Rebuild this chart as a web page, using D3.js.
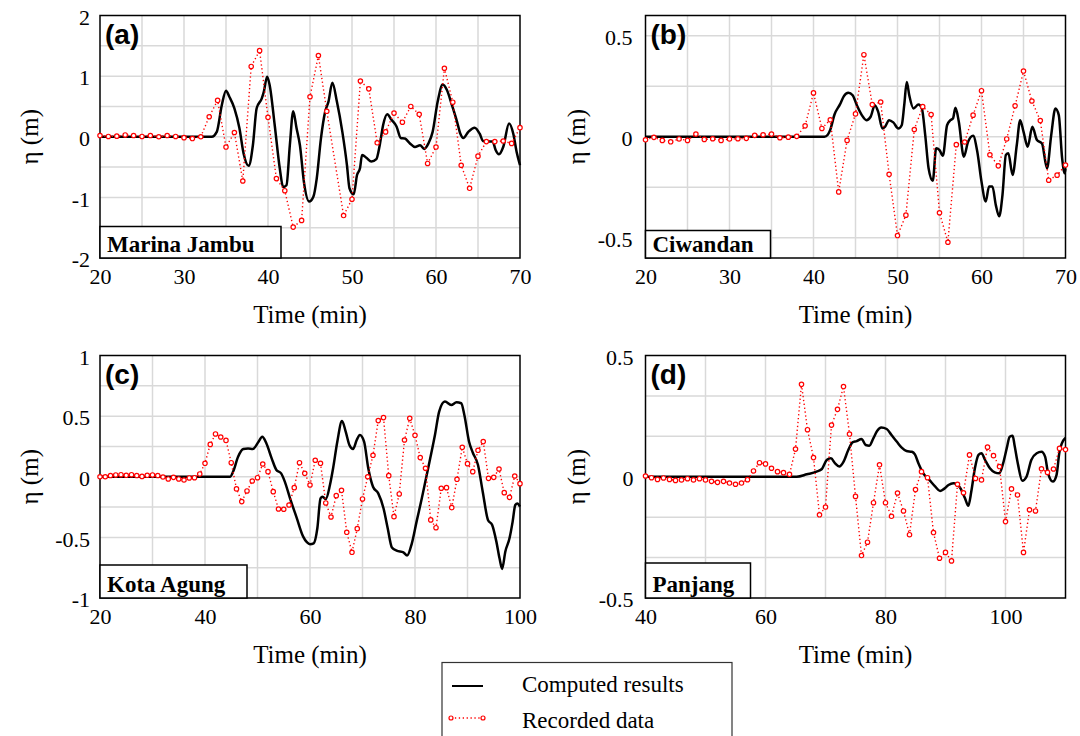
<!DOCTYPE html>
<html><head><meta charset="utf-8">
<script src="https://cdn.jsdelivr.net/npm/d3@7"></script>
<style>body{margin:0;background:#fff;} svg{display:block;}</style>
</head><body><svg id="chart" width="1080" height="736"></svg>
<script>
// ---------- (a) Marina Jambu ----------
const aRecTime = [20,21,22,23,24,25,26,27,28,29,30,31,32,33,34,35,36,37,38,39,40,41,42,43,44,45,46,47,49,50,51,52,53,54,55,56,57,58,59,60,61,62,63,64,65,66,67,68,69,70];
const aRecVal  = [0.02,0.005,0.01,0.03,0.02,0.005,0.02,0,0.02,0.005,-0.015,-0.03,0,0.33,0.6,-0.17,0.07,-0.73,1.16,1.42,0.32,-0.69,-0.89,-1.49,-1.38,0.66,1.34,0.42,-1.30,-1.03,0.92,0.79,-0.1,0.08,0.39,0.24,0.5,0.37,-0.44,-0.17,1.13,0.57,-0.47,-0.85,-0.32,-0.08,-0.08,-0.07,-0.11,0.15];
const aCompTime = [20,33.3,33.9,34.5,35.0,35.4,36.0,36.6,37.1,37.7,38.2,38.65,39.25,39.5,39.9,40.2,40.8,41.4,41.8,42.2,42.6,43.0,43.4,43.8,44.3,44.9,45.4,45.8,46.3,46.8,47.2,47.66,48.2,48.85,49.4,49.7,50.2,50.6,50.95,51.2,51.75,52.3,52.9,53.3,53.7,54.2,54.7,55.3,55.8,56.3,56.9,57.5,58.1,58.6,59.1,59.6,60.2,60.8,61.3,61.9,62.5,62.9,63.25,63.85,64.6,65.2,65.6,66.2,66.75,67.1,67.5,68.0,68.7,69.2,69.6,70];
const aCompVal  = [0,0,0.08,0.52,0.76,0.66,0.47,0.14,-0.28,-0.48,-0.14,0.47,0.63,0.74,0.99,0.85,0.19,-0.52,-0.83,-0.80,-0.14,0.42,0.14,-0.14,-0.77,-1.07,-0.99,-0.69,-0.03,0.41,0.58,0.89,0.58,0.08,-0.47,-0.85,-0.95,-0.63,-0.52,-0.30,-0.35,-0.41,-0.37,-0.14,0.19,0.37,0.28,0.17,-0.02,-0.03,-0.11,-0.17,-0.14,-0.20,-0.11,0.08,0.58,0.86,0.77,0.52,0.25,0.05,-0.02,0.08,0.15,0.05,-0.07,-0.08,-0.08,-0.22,-0.29,-0.17,0.22,0.05,-0.25,-0.47];

// ---------- (b) Ciwandan ----------
const bRecTime = [20,21,22,23,24,25,26,27,28,29,30,31,32,33,34,35,36,37,38,39,40,41,42,43,44,45,46,47,48,49,50,51,52,53,54,55,56,57,58,59,60,61,62,63,64,65,66,67,68,69,70];
const bRecVal  = [-0.015,-0.003,-0.018,-0.025,-0.011,-0.018,0.013,-0.013,-0.01,-0.018,-0.011,-0.01,-0.008,0.007,0.01,0.013,-0.005,-0.002,0.002,0.054,0.217,0.041,0.084,-0.273,-0.018,0.113,0.406,0.159,0.172,-0.186,-0.489,-0.388,0.036,0.149,0.11,-0.376,-0.522,-0.039,-0.026,0.107,0.228,-0.089,-0.144,-0.011,0.153,0.325,0.177,0.08,-0.215,-0.19,-0.14];
const bCompTime = [20,41.3,41.7,42.0,42.5,43.15,43.6,44.15,44.66,45.16,45.75,46.3,46.8,47.3,47.7,48.2,48.5,49.0,49.5,50.1,50.5,50.8,51.1,51.4,51.9,52.5,52.9,53.3,53.7,54.2,54.6,55.0,55.4,55.9,56.3,56.6,56.9,57.3,57.9,58.4,59.0,59.5,60.0,60.5,60.9,61.3,61.7,62.1,62.5,62.9,63.2,63.7,64.2,64.6,65.0,65.5,66.05,66.6,67.2,67.8,68.3,68.8,69.2,69.6,69.9,70];
const bCompVal  = [0,0,0.01,0.035,0.11,0.16,0.2,0.218,0.205,0.156,0.107,0.082,0.099,0.156,0.123,0.041,0.049,0.082,0.071,0.041,0.057,0.156,0.271,0.205,0.14,0.159,0.14,0.008,-0.156,-0.218,-0.057,-0.066,-0.094,0.057,0.082,0.09,0.143,0.074,-0.099,-0.025,0.005,-0.074,-0.222,-0.32,-0.246,-0.246,-0.337,-0.394,-0.287,-0.09,-0.082,-0.189,-0.041,0.082,0.025,-0.049,0.049,-0.016,-0.033,-0.156,0.008,0.14,0.107,-0.107,-0.181,-0.156];

// ---------- (c) Kota Agung ----------
const cRecTime = [20,21,22,23,24,25,26,27,28,29,30,31,32,33,34,35,36,37,38,39,40,41,42,43,44,45,46,47,48,49,50,51,52,53,54,55,56,57,58,59,60,61,62,63,64,65,66,67,68,69,70,71,72,73,74,75,76,77,78,79,80,81,82,83,84,85,86,87,88,89,90,91,92,93,94,95,96,97,98,99,100];
const cRecVal  = [0,0,0.01,0.015,0.017,0.012,0.017,0.01,0.003,0.012,0.015,0.01,-0.002,-0.018,-0.005,-0.018,-0.027,-0.01,-0.008,0.023,0.111,0.267,0.353,0.328,0.30,0.116,-0.1,-0.205,-0.117,-0.035,-0.008,0.105,0.042,-0.123,-0.266,-0.268,-0.233,-0.09,0.116,0.028,-0.068,0.136,0.111,-0.216,-0.332,-0.156,-0.112,-0.458,-0.623,-0.428,-0.183,0.0,0.177,0.463,0.488,0.009,-0.329,-0.142,0.303,0.482,0.342,0.158,0.07,-0.356,-0.42,-0.095,-0.09,-0.255,-0.021,0.243,0.108,0.042,0.218,0.29,-0.013,-0.005,0.064,-0.131,-0.17,0.006,-0.057];
const cCompTime = [20,44.76,45.4,46.3,47.3,48.2,49.1,50.2,50.9,51.7,52.7,53.6,54.5,55.2,56.2,57.5,58.7,59.4,60.0,60.7,61.4,62.0,62.4,63.0,63.8,64.4,65.2,66.1,66.8,67.5,68.2,68.9,69.5,70.3,71.1,72.0,73.0,74.0,74.8,75.6,76.5,77.8,78.5,79.4,80.3,81.3,82.1,82.9,83.8,84.6,85.7,86.9,87.9,88.8,89.4,90.3,91.0,92.0,92.9,93.9,94.7,95.5,96.1,96.6,97.2,98.0,98.6,99.1,99.5,100];
const cCompVal  = [0,0,0.047,0.165,0.229,0.234,0.229,0.289,0.33,0.275,0.152,0.056,0.028,-0.04,-0.178,-0.343,-0.494,-0.54,-0.557,-0.549,-0.425,-0.178,-0.165,-0.184,-0.068,0.07,0.289,0.46,0.372,0.262,0.229,0.303,0.344,0.289,0.07,-0.082,-0.137,-0.26,-0.425,-0.584,-0.609,-0.623,-0.65,-0.549,-0.37,-0.178,-0.013,0.152,0.344,0.537,0.62,0.592,0.614,0.606,0.51,0.289,0.2,0.097,-0.123,-0.356,-0.398,-0.535,-0.673,-0.76,-0.618,-0.508,-0.37,-0.233,-0.22,-0.247];

// ---------- (d) Panjang ----------
const dRecTime = [40,41,42,43,44,45,46,47,48,49,50,51,52,53,54,55,56,57,58,59,60,61,62,63,64,65,66,67,68,69,70,71,72,73,74,75,76,77,78,79,80,81,82,83,84,85,86,87,88,89,90,91,92,93,94,95,96,97,98,99,100,101,102,103,104,105,106,107,108,109,110];
const dRecVal  = [0.003,-0.004,-0.011,-0.005,-0.011,-0.015,-0.013,-0.008,-0.013,-0.008,-0.013,-0.019,-0.023,-0.019,-0.026,-0.031,-0.026,-0.012,0.024,0.058,0.053,0.035,0.021,0.017,0.01,0.114,0.381,0.194,0.079,-0.157,-0.125,0.213,0.278,0.372,0.176,-0.081,-0.325,-0.27,-0.107,0.049,-0.107,-0.163,-0.067,-0.141,-0.239,-0.053,0.021,-0.004,-0.23,-0.336,-0.312,-0.347,-0.031,-0.066,0.09,-0.007,-0.013,0.122,0.087,0.042,-0.185,-0.05,-0.075,-0.312,-0.136,-0.141,0.033,0.018,0.032,0.117,0.112];
const dCompTime = [40,65.2,66.9,68.5,69.4,70.2,70.9,71.6,72.3,72.97,73.8,74.5,75.2,76.0,76.7,77.3,77.97,78.6,79.3,80.2,81.0,81.9,82.7,83.5,84.4,84.9,85.5,86.3,87.3,88.3,89.1,89.75,90.5,91.3,91.97,92.5,93.25,93.8,94.3,94.9,95.5,96.0,96.6,97.4,98.2,98.97,99.6,100.2,100.7,101.2,101.5,102.1,102.8,103.5,104.3,105.2,106.0,106.6,107.1,107.9,108.5,109.0,109.9,110];
const dCompVal  = [0,0,0.01,0.021,0.032,0.069,0.076,0.055,0.042,0.06,0.11,0.142,0.147,0.156,0.131,0.128,0.158,0.189,0.203,0.197,0.172,0.144,0.12,0.106,0.103,0.092,0.055,0.014,-0.013,-0.041,-0.059,-0.05,-0.034,-0.027,-0.031,-0.048,-0.089,-0.12,-0.061,0.035,0.09,0.097,0.069,0.035,0.018,0.014,0.055,0.117,0.165,0.169,0.131,0.049,-0.017,0.0,0.069,0.097,0.103,0.083,0.014,-0.02,0.007,0.103,0.158,0.16];

// ---------- ticks / labels ----------
const panelLetters = ["(a)","(b)","(c)","(d)"];
const stationNames = ["Marina Jambu","Ciwandan","Kota Agung","Panjang"];
const aXTicks = [20,30,40,50,60,70], aXGrid = [25,30,35,40,45,50,55,60,65];
const aYTicks = [-2,-1,0,1,2], aYGrid = [-1.5,-1,-0.5,0,0.5,1,1.5];
const bXTicks = [20,30,40,50,60,70], bXGrid = [25,30,35,40,45,50,55,60,65];
const bYTicks = [-0.5,0,0.5], bYGrid = [-0.5,-0.25,0,0.25,0.5];
const cXTicks = [20,40,60,80,100], cXGrid = [30,40,50,60,70,80,90];
const cYTicks = [-1,-0.5,0,0.5,1], cYGrid = [-0.75,-0.5,-0.25,0,0.25,0.5,0.75];
const dXTicks = [40,60,80,100], dXGrid = [50,60,70,80,90,100];
const dYTicks = [-0.5,0,0.5], dYGrid = [-1/3,-1/6,0,1/6,1/3];
const legendLabels = ["Computed results","Recorded data"];
const xTitle = "Time (min)", yTitle = "η (m)";

const SERIF = "'Liberation Serif','Times New Roman',serif";
const SANS = "'Liberation Sans',Arial,sans-serif";
const PW = 420, PH = 242.5;

const panels = [
  {left:100, top:15.5, xd:[20,70], yd:[-2,2], xt:aXTicks, xg:aXGrid, yt:aYTicks, yg:aYGrid, rt:aRecTime, rv:aRecVal, ct:aCompTime, cv:aCompVal, boxW:181, boxH:31.5, ylabX:37.5, yPad:10},
  {left:645.5, top:15.5, xd:[20,70], yd:[-0.6,0.6], xt:bXTicks, xg:bXGrid, yt:bYTicks, yg:bYGrid, rt:bRecTime, rv:bRecVal, ct:bCompTime, cv:bCompVal, boxW:125, boxH:27.5, ylabX:584.5, yPad:13},
  {left:100, top:355.5, xd:[20,100], yd:[-1,1], xt:cXTicks, xg:cXGrid, yt:cYTicks, yg:cYGrid, rt:cRecTime, rv:cRecVal, ct:cCompTime, cv:cCompVal, boxW:147, boxH:33, ylabX:37.5, yPad:10},
  {left:645.5, top:355.5, xd:[40,110], yd:[-0.5,0.5], xt:dXTicks, xg:dXGrid, yt:dYTicks, yg:dYGrid, rt:dRecTime, rv:dRecVal, ct:dCompTime, cv:dCompVal, boxW:105, boxH:35, ylabX:584.5, yPad:12}
];

const svg = d3.select("#chart");
svg.append("rect").attr("width",1080).attr("height",736).attr("fill","#fff");

panels.forEach((p,i) => {
  const g = svg.append("g");
  const x = d3.scaleLinear().domain(p.xd).range([p.left, p.left+PW]);
  const y = d3.scaleLinear().domain(p.yd).range([p.top+PH, p.top]);

  // grid
  g.append("g").selectAll("line").data(p.xg).join("line")
    .attr("x1",d=>x(d)).attr("x2",d=>x(d)).attr("y1",p.top).attr("y2",p.top+PH)
    .attr("stroke","#d9d9d9").attr("stroke-width",1.5);
  g.append("g").selectAll("line").data(p.yg).join("line")
    .attr("y1",d=>y(d)).attr("y2",d=>y(d)).attr("x1",p.left).attr("x2",p.left+PW)
    .attr("stroke","#d9d9d9").attr("stroke-width",1.5);

  // axes (labels only)
  const xa = g.append("g").attr("transform",`translate(0,${p.top+PH})`)
    .call(d3.axisBottom(x).tickValues(p.xt).tickSize(0).tickPadding(10).tickFormat(d=>String(d)));
  xa.select(".domain").remove();
  xa.selectAll("text").attr("font-family",SERIF).attr("font-size",22).attr("fill","#000");
  const ya = g.append("g").attr("transform",`translate(${p.left},0)`)
    .call(d3.axisLeft(y).tickValues(p.yt).tickSize(0).tickPadding(p.yPad).tickFormat(d=>String(d)));
  ya.select(".domain").remove();
  ya.selectAll("text").attr("font-family",SERIF).attr("font-size",22).attr("fill","#000").attr("dy","0.4em");

  // titles
  g.append("text").attr("x",p.left+PW/2).attr("y",p.top+PH+65).attr("text-anchor","middle")
    .attr("font-family",SERIF).attr("font-size",25).text(xTitle);
  g.append("text").attr("transform",`translate(${p.ylabX},${p.top+PH/2}) rotate(-90)`)
    .attr("text-anchor","middle").attr("font-family",SERIF).attr("font-size",25).text(yTitle);

  // computed line
  const comp = p.ct.map((t,k)=>[t,p.cv[k]]);
  g.append("path").datum(comp)
    .attr("d", d3.line().x(d=>x(d[0])).y(d=>y(d[1])).curve(d3.curveMonotoneX))
    .attr("fill","none").attr("stroke","#000").attr("stroke-width",2.5).attr("stroke-linejoin","round");

  // recorded
  const rec = p.rt.map((t,k)=>[t,p.rv[k]]);
  g.append("path").datum(rec)
    .attr("d", d3.line().x(d=>x(d[0])).y(d=>y(d[1])))
    .attr("fill","none").attr("stroke","#ff0000").attr("stroke-width",1.4).attr("stroke-dasharray","1.3,2.6");

  // frame
  g.append("rect").attr("x",p.left).attr("y",p.top).attr("width",PW).attr("height",PH)
    .attr("fill","none").attr("stroke","#000").attr("stroke-width",1.5);

  g.append("g").selectAll("circle").data(rec).join("circle")
    .attr("cx",d=>x(d[0])).attr("cy",d=>y(d[1])).attr("r",2.2)
    .attr("fill","#fff").attr("stroke","#ff0000").attr("stroke-width",1.2);

  // station box
  g.append("rect").attr("x",p.left).attr("y",p.top+PH-p.boxH).attr("width",p.boxW).attr("height",p.boxH)
    .attr("fill","#fff").attr("stroke","#000").attr("stroke-width",1.5);
  g.append("text").attr("x",p.left+7).attr("y",p.top+PH-6.5)
    .attr("font-family",SERIF).attr("font-weight","bold").attr("font-size",23).text(stationNames[i]);

  // panel letter
  g.append("text").attr("x",p.left+5).attr("y",p.top+28.5)
    .attr("font-family",SANS).attr("font-weight","bold").attr("font-size",28).text(panelLetters[i]);
});

// legend
const lg = svg.append("g");
lg.append("rect").attr("x",442).attr("y",662.5).attr("width",290).attr("height",90)
  .attr("fill","#fff").attr("stroke","#333").attr("stroke-width",1.2);
lg.append("line").attr("x1",452).attr("x2",483).attr("y1",686).attr("y2",686)
  .attr("stroke","#000").attr("stroke-width",2);
lg.append("line").attr("x1",451).attr("x2",483).attr("y1",718).attr("y2",718)
  .attr("stroke","#ff0000").attr("stroke-width",1.3).attr("stroke-dasharray","1.3,2.6");
lg.selectAll("circle").data([451,483]).join("circle")
  .attr("cx",d=>d).attr("cy",718).attr("r",2).attr("fill","#fff").attr("stroke","#ff0000").attr("stroke-width",1.2);
lg.selectAll("text").data(legendLabels).join("text")
  .attr("x",522).attr("y",(d,k)=>k===0?691.5:727.5)
  .attr("font-family",SERIF).attr("font-size",23).text(d=>d);
</script></body></html>
